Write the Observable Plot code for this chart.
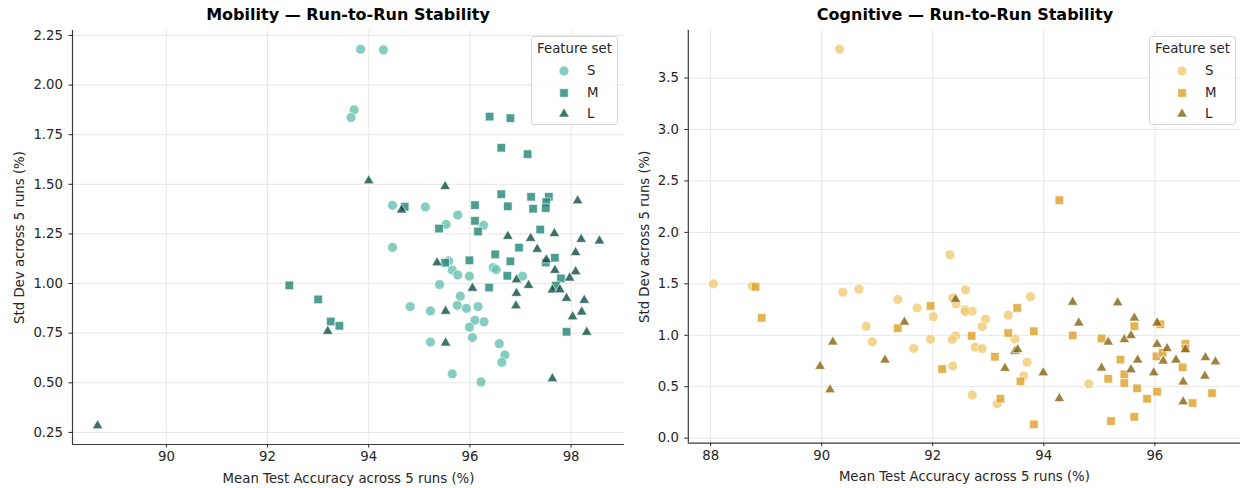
<!DOCTYPE html>
<html><head><meta charset="utf-8">
<script src="https://cdn.jsdelivr.net/npm/d3@7"></script>
<script src="https://cdn.jsdelivr.net/npm/@observablehq/plot@0.6"></script>
<style>
html,body{margin:0;padding:0;background:#fff;overflow:hidden}
#wrap{position:relative;width:1240px;height:488px;overflow:hidden;font-family:"DejaVu Sans",sans-serif}
.title{position:absolute;top:4px;text-align:center;font-weight:bold;font-size:16px;color:#000;line-height:22px;white-space:nowrap}
.panel{position:absolute;top:22px}
.legend{position:absolute;border:1px solid #d6d6d6;border-radius:3px;background:rgba(255,255,255,0.8);box-sizing:border-box;font-size:13.3px;color:#262626}
.legend .lt{position:absolute;left:0;right:0;top:3px;text-align:center;line-height:18px}
.legend .row{position:absolute;left:0;right:0;height:18px;line-height:18px}
.legend .row svg{position:absolute;top:2px}
.legend .row span{position:absolute}
</style>
</head><body>
<div id="wrap">
  <div class="title" style="left:72px;width:552px">Mobility — Run-to-Run Stability</div>
  <div class="title" style="left:688px;width:554px">Cognitive — Run-to-Run Stability</div>
  <div id="p1" class="panel" style="left:0"></div>
  <div id="p2" class="panel" style="left:630px"></div>
  <div id="lg1" class="legend" style="left:531px;top:36px;width:87px;height:89px"></div>
  <div id="lg2" class="legend" style="left:1149px;top:36px;width:87px;height:89px"></div>
</div>
<script>
const featureSets = ["S", "M", "L"];
const symbolNames = ["circle", "square", "triangle"];
const mobilityColors = ["#66c1b0", "#228476", "#0c4f45"];
const cognitiveColors = ["#efca72", "#dc9f25", "#84630e"];

const mobilityXTicks = [90, 92, 94, 96, 98];
const mobilityYTicks = [0.25, 0.5, 0.75, 1.0, 1.25, 1.5, 1.75, 2.0, 2.25];
const cognitiveXTicks = [88, 90, 92, 94, 96];
const cognitiveYTicks = [0, 0.5, 1.0, 1.5, 2.0, 2.5, 3.0, 3.5];

// [mean accuracy %, std dev %]
const mobilityS = [[93.84,2.18],[94.29,2.177],[93.71,1.875],[93.65,1.836],[94.47,1.394],[95.12,1.386],[95.76,1.345],[95.53,1.298],[96.27,1.293],[94.47,1.182],[95.58,1.114],[95.65,1.068],[95.76,1.043],[95.99,1.037],[95.40,0.995],[96.46,1.08],[96.52,1.07],[97.04,1.037],[95.81,0.936],[95.75,0.89],[95.93,0.875],[96.16,0.884],[94.82,0.884],[95.22,0.862],[96.10,0.815],[96.28,0.807],[95.99,0.78],[96.05,0.728],[95.22,0.705],[96.58,0.697],[96.69,0.64],[96.63,0.603],[95.65,0.545],[96.22,0.504]];
const mobilityM = [[96.39,1.841],[96.80,1.833],[96.62,1.684],[97.14,1.652],[96.62,1.45],[97.21,1.437],[97.56,1.437],[97.51,1.41],[97.50,1.38],[97.25,1.377],[96.75,1.389],[96.10,1.395],[94.71,1.387],[96.10,1.316],[96.16,1.262],[95.39,1.277],[97.39,1.272],[96.97,1.181],[96.50,1.147],[95.99,1.117],[96.80,1.112],[97.68,1.13],[95.51,1.105],[97.50,1.106],[96.74,1.039],[97.80,1.026],[97.70,0.99],[96.38,0.98],[97.91,0.757],[92.43,0.991],[93.0,0.92],[93.25,0.809],[93.42,0.787]];
const mobilityL = [[88.64,0.284],[94.0,1.518],[95.51,1.489],[94.65,1.371],[98.13,1.417],[96.75,1.238],[97.2,1.228],[97.67,1.252],[98.2,1.223],[98.56,1.215],[97.33,1.173],[98.09,1.156],[97.51,1.12],[95.35,1.105],[97.68,1.067],[98.09,1.06],[96.92,1.019],[97.16,0.991],[96.05,0.977],[97.63,0.968],[97.78,0.969],[97.97,1.028],[96.92,0.951],[97.91,0.926],[98.26,0.916],[96.91,0.888],[95.52,0.861],[98.21,0.857],[98.03,0.833],[98.31,0.755],[95.52,0.701],[93.19,0.76],[97.63,0.521]];

const cognitiveS = [[90.32,3.78],[88.05,1.50],[88.75,1.477],[90.38,1.418],[90.67,1.447],[91.37,1.347],[91.72,1.266],[90.80,1.086],[90.91,0.935],[91.66,0.872],[92.01,1.18],[91.96,0.961],[92.31,1.782],[92.36,1.363],[92.42,1.305],[92.59,1.442],[92.58,1.25],[92.71,1.234],[92.95,1.156],[92.89,1.084],[93.36,1.195],[93.76,1.375],[93.48,0.963],[92.41,0.994],[92.35,0.958],[92.76,0.885],[92.89,0.87],[93.70,0.738],[93.64,0.604],[92.36,0.7],[92.71,0.419],[93.16,0.333],[94.81,0.528],[92.58,1.23]];
const cognitiveM = [[88.81,1.47],[88.92,1.169],[91.96,1.285],[91.37,1.068],[92.17,0.671],[92.70,0.994],[93.12,0.791],[93.22,0.383],[93.36,1.022],[93.52,1.266],[93.58,0.552],[93.82,1.039],[93.82,0.134],[94.28,2.313],[94.52,0.998],[95.04,0.969],[95.16,0.577],[95.21,0.166],[95.38,0.763],[95.45,0.536],[95.45,0.62],[95.63,1.088],[95.63,0.207],[95.68,0.484],[95.86,0.383],[96.03,0.795],[96.10,1.107],[96.14,0.831],[96.04,0.452],[96.50,0.688],[96.55,0.916],[96.55,0.87],[96.68,0.341],[97.03,0.438]];
const cognitiveL = [[89.97,0.698],[90.15,0.471],[90.20,0.935],[91.14,0.76],[91.49,1.128],[92.41,1.35],[93.30,0.679],[93.48,0.845],[93.53,0.861],[93.99,0.636],[94.28,0.386],[94.52,1.322],[94.63,1.12],[95.04,0.682],[95.16,0.934],[95.33,1.317],[95.45,0.958],[95.57,0.997],[95.57,0.666],[95.63,1.168],[95.69,0.76],[95.98,0.636],[96.04,1.12],[96.04,0.912],[96.22,0.871],[96.15,0.75],[96.38,0.76],[96.55,0.861],[96.51,0.547],[96.51,0.354],[96.91,0.783],[96.90,0.604],[97.09,0.742]];

const markerR = {S: 4.9, M: 4.8, L: 3.9};

function rows(sets) {
  const out = [];
  featureSets.forEach((s, i) => sets[i].forEach(([x, y]) => out.push({set: s, x, y})));
  return out;
}
function padded(vals) {
  const [a, b] = d3.extent(vals);
  const m = (b - a) * 0.05;
  return [a - m, b + m];
}

function makePanel(sets, colors, xTicks, yTicks, yFmt, opts) {
  const data = rows(sets);
  const xDom = padded(data.map(d => d.x));
  const yDom = padded(data.map(d => d.y));
  const marks = [
    Plot.gridX({ticks: xTicks, stroke: "#e6e6e6", strokeOpacity: 1, strokeWidth: 1}),
    Plot.gridY({ticks: yTicks, stroke: "#e6e6e6", strokeOpacity: 1, strokeWidth: 1}),
    Plot.ruleX([xDom[0]], {stroke: "#3a3a3a", strokeWidth: 1.2}),
    Plot.ruleY([yDom[0]], {stroke: "#3a3a3a", strokeWidth: 1.2}),
    Plot.axisX({ticks: xTicks, tickSize: 3.5, tickPadding: 4, tickFormat: d => String(d),
      label: "Mean Test Accuracy across 5 runs (%)", labelAnchor: "center", labelArrow: "none", labelOffset: 38}),
    Plot.axisY({ticks: yTicks, tickSize: 3.5, tickPadding: 6, tickFormat: d3.format(yFmt),
      label: "Std Dev across 5 runs (%)", labelAnchor: "center", labelArrow: "none", labelOffset: opts.labelOffset})
  ];
  featureSets.forEach(s => {
    marks.push(Plot.dot(data.filter(d => d.set === s), {
      x: "x", y: "y", symbol: "set", fill: "set", r: markerR[s],
      fillOpacity: 0.8, stroke: "white", strokeWidth: 0.6
    }));
  });
  return Plot.plot({
    width: opts.width, height: 466,
    marginLeft: opts.marginLeft, marginRight: opts.marginRight, marginTop: 8, marginBottom: 44,
    x: {domain: xDom}, y: {domain: yDom},
    color: {domain: featureSets, range: colors},
    symbol: {domain: featureSets, range: symbolNames},
    style: {fontFamily: "DejaVu Sans", fontSize: "13.3px", color: "#262626", background: "transparent", overflow: "visible"},
    marks
  });
}

document.getElementById("p1").appendChild(
  makePanel([mobilityS, mobilityM, mobilityL], mobilityColors, mobilityXTicks, mobilityYTicks, ".2f",
    {width: 630, marginLeft: 72, marginRight: 6, labelOffset: 58}));
document.getElementById("p2").appendChild(
  makePanel([cognitiveS, cognitiveM, cognitiveL], cognitiveColors, cognitiveXTicks, cognitiveYTicks, ".1f",
    {width: 612, marginLeft: 58, marginRight: 0, labelOffset: 49}));

function legend(id, colors) {
  const el = document.getElementById(id);
  const t = document.createElement("div");
  t.className = "lt"; t.textContent = "Feature set";
  el.appendChild(t);
  const symTypes = [d3.symbolCircle, d3.symbolSquare, d3.symbolTriangle];
  featureSets.forEach((s, i) => {
    const row = document.createElement("div");
    row.className = "row";
    row.style.top = (25 + i * 21.5) + "px";
    const svg = d3.create("svg").attr("width", 14).attr("height", 14).style("left", "25px");
    svg.append("path")
      .attr("transform", "translate(7,7)")
      .attr("d", d3.symbol(symTypes[i], Math.PI * markerR[s] * markerR[s])())
      .attr("fill", colors[i]).attr("fill-opacity", 0.8)
      .attr("stroke", "white").attr("stroke-width", 0.6);
    row.appendChild(svg.node());
    const lab = document.createElement("span");
    lab.textContent = s; lab.style.left = "55px";
    row.appendChild(lab);
    el.appendChild(row);
  });
}
legend("lg1", mobilityColors);
legend("lg2", cognitiveColors);
</script>
</body></html>
